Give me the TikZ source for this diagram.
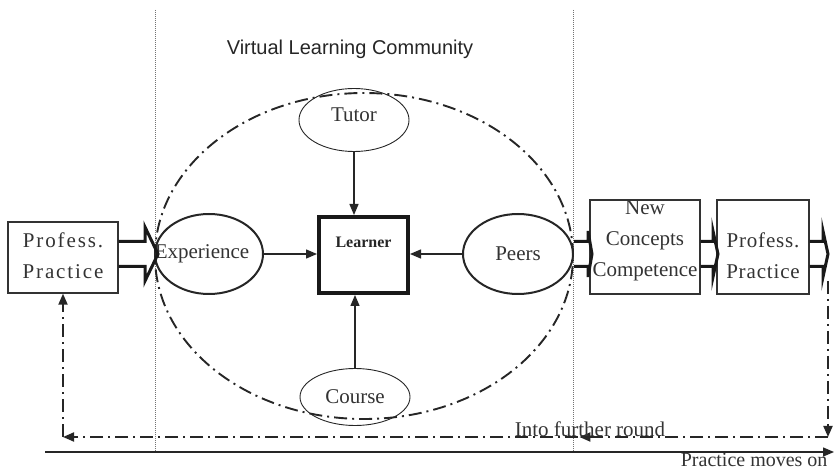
\documentclass[tikz,border=0pt]{standalone}
\usepackage{fontspec}
\setmainfont{Liberation Serif}
\newfontfamily\titlefont{Liberation Sans}
\usetikzlibrary{shapes.geometric,arrows.meta,calc,decorations.markings}
\newcommand\blockarrow[5]{%
  \draw[blk] let \p1=(#1), \p2=(#2) in
    (\x1,\y1+#3) -- (\x2-#5,\y1+#3) -- (\x2-#5,\y1+#4) -- (\x2,\y1)
    -- (\x2-#5,\y1-#4) -- (\x2-#5,\y1-#3) -- (\x1,\y1-#3);}
\begin{document}
\begin{tikzpicture}[x=1pt,y=-1pt,
  txt/.style={font=\fontsize{21}{31}\selectfont, text=black!80},
  spaced/.style={font=\fontsize{21}{31}\selectfont\addfontfeature{LetterSpace=9}, text=black!80},
  box/.style={draw=black!80, line width=1.3pt, inner sep=0pt},
  oval/.style={draw=black!85, ellipse, inner sep=0pt, txt},
  arr/.style={draw=black!85, line width=1.4pt, -{Triangle[length=11pt,width=9pt]}},
  dashdot/.style={draw=black!85, line width=1.9pt, dash pattern=on 13pt off 5pt on 2pt off 5pt},
  dtip/.style={-{Triangle[length=11pt,width=9pt]}},
  blk/.style={draw=black!90, line width=3pt, line join=miter},
  guide/.style={draw=black!55, line width=0.8pt, dash pattern=on 0.8pt off 1.2pt},
]
\useasboundingbox (0,0) rectangle (836,470);

% guide lines
\coordinate (g1t) at (155,10); \coordinate (g1b) at (155,452);
\coordinate (g2t) at (573,10); \coordinate (g2b) at (573,452);
\draw[guide] (g1t) -- (g1b);
\draw[guide] (g2t) -- (g2b);

% title
\node[font=\titlefont\fontsize{20}{24}\selectfont, text=black!85] (title) at (350,49) {Virtual Learning Community};

% community ellipse
\node[dashdot, ellipse, minimum width=418pt, minimum height=326pt, inner sep=0pt] (vlc) at (364,256) {};

% inner nodes
\node[oval, line width=0.9pt, minimum width=110pt, minimum height=63pt] (tutor) at (354,120) {};
\node[txt] (tutort) at (354,115) {Tutor};
\node[oval, line width=0.9pt, minimum width=110pt, minimum height=57pt] (course) at (355,397) {Course};
\node[oval, line width=2pt, minimum width=108pt, minimum height=80pt] (exp) at (209,254) {};
\node[txt] (expt) at (202,254) {Experience};
\node[oval, line width=2pt, minimum width=110pt, minimum height=80pt] (peers) at (518,254) {Peers};
\node[draw=black!90, line width=4pt, minimum width=89pt, minimum height=76pt, inner sep=0pt] (lrn) at (363.5,255) {};
\node[font=\bfseries\fontsize{16}{19}\selectfont, text=black!85] (lrnt) at (363.5,242) {Learner};

\draw[arr] (tutor.south) -- (tutor.south |- lrn.north);
\draw[arr] (course.north) -- (course.north |- lrn.south);
\draw[arr] (exp.east) -- (exp.east -| lrn.west);
\draw[arr] (peers.west) -- (peers.west -| lrn.east);

% outside boxes
\node[box, minimum width=110pt, minimum height=71pt] (pp1) at (63,257.5) {};
\node[spaced, align=center] (pp1t) at (63,256) {Profess.\\Practice};
\node[box, minimum width=110pt, minimum height=94pt] (ncc) at (645,247) {};
\node[txt, align=center] (ncct) at (645,241) {New\\Concepts\\Competence};
\node[box, minimum width=92pt, minimum height=94pt] (pp2) at (763,247) {};
\node[txt, align=center, font=\fontsize{21}{31}\selectfont\addfontfeature{LetterSpace=4}] (pp2t) at (763,256) {Profess.\\Practice};

% block arrows
\blockarrow{pp1.east |- exp.east}{158,0}{12.5pt}{27pt}{13pt}
\blockarrow{peers.east}{592,0}{12.5pt}{23pt}{4pt}
\blockarrow{ncc.east |- peers.east}{718,0}{12.5pt}{23pt}{5pt}
\blockarrow{pp2.east |- peers.east}{828,0}{12.5pt}{23pt}{5pt}

% further round loop
\coordinate (rtop) at (828,281);
\coordinate (rbot) at (828,437);
\coordinate (lbot) at (pp1.south |- rbot);
\draw[dashdot, dtip] (rtop) -- (rbot);
\draw[dashdot, dtip, postaction={decorate},
  decoration={markings, mark=at position 0.325 with {\arrow{Triangle[length=11pt,width=9pt]}}}]
  (rbot) -- (lbot);
\draw[dashdot, dtip] (lbot) -- (pp1.south);
\node[txt] (into) at (590,429) {Into further round};

% practice moves on
\coordinate (bl) at (45,452);
\coordinate (br) at (834,452);
\draw[arr] (bl) -- (br);
\node[txt, anchor=east, font=\fontsize{20}{24}\selectfont] (moves) at (831,460) {Practice moves on};
\end{tikzpicture}
\end{document}
